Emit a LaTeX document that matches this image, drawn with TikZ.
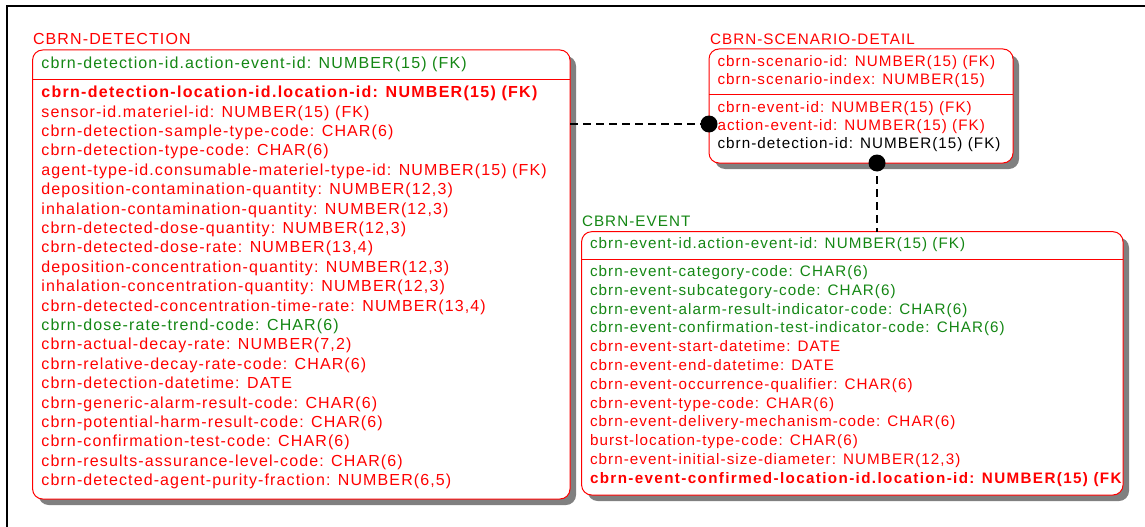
\documentclass[tikz,border=0pt]{standalone}
\usepackage{fontspec}
\setmainfont{Liberation Sans}[LetterSpace=7]
\usetikzlibrary{shadows}
\definecolor{ered}{RGB}{255,0,0}
\definecolor{egreen}{RGB}{20,135,20}
\definecolor{shade}{RGB}{128,128,128}
\newcommand\erfont{\fontsize{16}{18}\selectfont}
\newcommand\esfont{\fontsize{15.2}{18}\selectfont}
\begin{document}
\begin{tikzpicture}[x=1pt,y=-1pt,
  ent/.style={draw=ered, line width=1pt, fill=white, rectangle, rounded corners=10pt,
    inner sep=0pt, outer sep=0pt, anchor=north west,
    general shadow={shadow xshift=6pt, shadow yshift=-6pt, fill=shade, draw=none}},
  sep/.style={draw=ered, line width=1pt},
  ln/.style={anchor=base west, inner sep=0pt, outer sep=0pt, font=\erfont},
  sm/.style={font=\esfont},
  rl/.style={ln, text=ered},
  gl/.style={ln, text=egreen},
  kl/.style={ln, text=black},
  conn/.style={draw=black, line width=2.6pt, dash pattern=on 8pt off 5pt},
  dot/.style={fill=black}]
\useasboundingbox (0,0) rectangle (1145,527);
\fill[white] (0,0) rectangle (1145,527);
\draw[line width=2pt] (7,527) -- (7,6) -- (1145,6);

% entity boxes
\node[ent, minimum width=537.4pt, minimum height=449pt] (det) at (32.6,50) {};
\node[ent, minimum width=304pt, minimum height=114pt] (scen) at (709,49) {};
\node[ent, minimum width=541.4pt, minimum height=263.3pt] (evt) at (581.6,231.7) {};
\draw[sep] (det.west |- 0,79) -- (det.east |- 0,79);
\draw[sep] (scen.west |- 0,94) -- (scen.east |- 0,94);
\draw[sep] (evt.west |- 0,259) -- (evt.east |- 0,259);

% titles
\node[rl] (tdet) at (33,45) {CBRN-DETECTION};
\node[rl, sm] (tscen) at (710,44.3) {CBRN-SCENARIO-DETAIL};
\node[gl, sm] (tevt) at (582,226) {CBRN-EVENT};

% CBRN-DETECTION
\node[gl] (d0) at (41.4,68) {cbrn-detection-id.action-event-id: NUMBER(15) (FK)};
\node[rl, font=\erfont\bfseries\addfontfeatures{LetterSpace=8}] (d1) at (41.4,97.7) {cbrn-detection-location-id.location-id: NUMBER(15) (FK)};
\node[rl] (d2) at (41.4,117.1) {sensor-id.materiel-id: NUMBER(15) (FK)};
\node[rl] (d3) at (41.4,136.5) {cbrn-detection-sample-type-code: CHAR(6)};
\node[rl] (d4) at (41.4,155.9) {cbrn-detection-type-code: CHAR(6)};
\node[rl] (d5) at (41.4,175.3) {agent-type-id.consumable-materiel-type-id: NUMBER(15) (FK)};
\node[rl] (d6) at (41.4,194.7) {deposition-contamination-quantity: NUMBER(12,3)};
\node[rl] (d7) at (41.4,214.1) {inhalation-contamination-quantity: NUMBER(12,3)};
\node[rl] (d8) at (41.4,233.5) {cbrn-detected-dose-quantity: NUMBER(12,3)};
\node[rl] (d9) at (41.4,252.9) {cbrn-detected-dose-rate: NUMBER(13,4)};
\node[rl] (d10) at (41.4,272.3) {deposition-concentration-quantity: NUMBER(12,3)};
\node[rl] (d11) at (41.4,291.7) {inhalation-concentration-quantity: NUMBER(12,3)};
\node[rl] (d12) at (41.4,311.1) {cbrn-detected-concentration-time-rate: NUMBER(13,4)};
\node[gl] (d13) at (41.4,330.5) {cbrn-dose-rate-trend-code: CHAR(6)};
\node[rl] (d14) at (41.4,349.9) {cbrn-actual-decay-rate: NUMBER(7,2)};
\node[rl] (d15) at (41.4,369.3) {cbrn-relative-decay-rate-code: CHAR(6)};
\node[rl] (d16) at (41.4,388.7) {cbrn-detection-datetime: DATE};
\node[rl] (d17) at (41.4,408.1) {cbrn-generic-alarm-result-code: CHAR(6)};
\node[rl] (d18) at (41.4,427.5) {cbrn-potential-harm-result-code: CHAR(6)};
\node[rl] (d19) at (41.4,446.9) {cbrn-confirmation-test-code: CHAR(6)};
\node[rl] (d20) at (41.4,466.3) {cbrn-results-assurance-level-code: CHAR(6)};
\node[rl] (d21) at (41.4,485.7) {cbrn-detected-agent-purity-fraction: NUMBER(6,5)};

% CBRN-SCENARIO-DETAIL
\node[rl, sm] (s0) at (717.5,66.5) {cbrn-scenario-id: NUMBER(15) (FK)};
\node[rl, sm] (s1) at (717.5,84.5) {cbrn-scenario-index: NUMBER(15)};
\node[rl, sm] (s2) at (717.5,112.5) {cbrn-event-id: NUMBER(15) (FK)};
\node[rl, sm] (s3) at (717.5,130.5) {action-event-id: NUMBER(15) (FK)};
\node[kl, sm] (s4) at (717.5,148.5) {cbrn-detection-id: NUMBER(15) (FK)};

% CBRN-EVENT
\node[gl, sm] (e0) at (590,248.5) {cbrn-event-id.action-event-id: NUMBER(15) (FK)};
\node[gl, sm] (e1) at (590,276.5) {cbrn-event-category-code: CHAR(6)};
\node[gl, sm] (e2) at (590,295.3) {cbrn-event-subcategory-code: CHAR(6)};
\node[gl, sm] (e3) at (590,314.1) {cbrn-event-alarm-result-indicator-code: CHAR(6)};
\node[gl, sm] (e4) at (590,332.9) {cbrn-event-confirmation-test-indicator-code: CHAR(6)};
\node[rl, sm] (e5) at (590,351.7) {cbrn-event-start-datetime: DATE};
\node[rl, sm] (e6) at (590,370.5) {cbrn-event-end-datetime: DATE};
\node[rl, sm] (e7) at (590,389.3) {cbrn-event-occurrence-qualifier: CHAR(6)};
\node[rl, sm] (e8) at (590,408.1) {cbrn-event-type-code: CHAR(6)};
\node[rl, sm] (e9) at (590,426.9) {cbrn-event-delivery-mechanism-code: CHAR(6)};
\node[rl, sm] (e10) at (590,445.7) {burst-location-type-code: CHAR(6)};
\node[rl, sm] (e11) at (590,464.5) {cbrn-event-initial-size-diameter: NUMBER(12,3)};
\begin{scope}
\clip (evt.north west) rectangle ([xshift=-2pt]evt.south east);
\node[rl, font=\esfont\bfseries\addfontfeatures{LetterSpace=9}] (e12) at (590,483.3) {cbrn-event-confirmed-location-id.location-id: NUMBER(15) (FK};
\end{scope}

% relationships
\coordinate (dl) at (scen.west |- 0,124);
\coordinate (db) at (scen.south -| 877,0);
\draw[conn] (det.east |- dl) -- (dl);
\draw[conn] (db) -- (db |- evt.north);
\fill[dot] (dl) circle (8.5pt);
\fill[dot] (db) circle (8.5pt);
\end{tikzpicture}
\end{document}
